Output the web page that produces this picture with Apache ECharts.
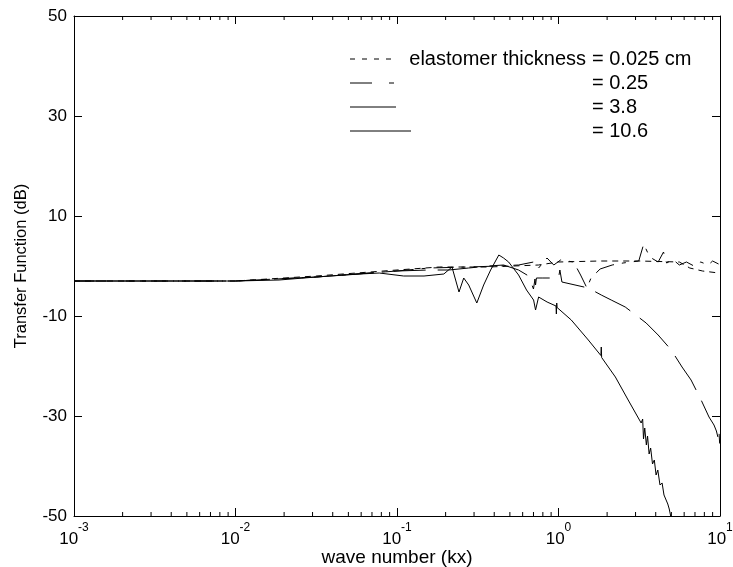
<!DOCTYPE html>
<html>
<head>
<meta charset="utf-8">
<script src="https://cdn.jsdelivr.net/npm/echarts@6/dist/echarts.min.js"></script>
<style>
html,body{margin:0;padding:0;background:#fff;}
#chart{width:733px;height:567px;}
</style>
</head>
<body>
<div id="chart"></div>
<script>
// ---- data (wave number kx, transfer function dB) ----
const seriesNames = ['0.025', '0.25', '3.8', '10.6'];
const legendLabels = ['= 0.025 cm', '= 0.25', '= 3.8', '= 10.6'];
const legendPrefix = 'elastomer thickness';
const xTitle = 'wave number (kx)';
const yTitle = 'Transfer Function (dB)';

const k_0025 = [0.001, 0.01, 0.0316, 0.1, 0.183, 0.37, 0.753, 1.0, 1.81, 3.14, 5.6, 6.5, 7.8, 9.8];
const db_0025 = [-3.0, -3.0, -2.0, -0.8, -0.2, -0.2, 0.2, 0.8, 1.0, 1.0, 0.8, -0.4, -1.0, -1.4];

const k_025 = [0.001, 0.01, 0.0316, 0.1, 0.158, 0.278, 0.427, 0.566, 0.701, 0.753, 0.849, 0.935, 1.03, 1.24, 1.37, 1.50, 1.59, 1.81, 2.15, 2.51, 3.14, 3.37, 3.67, 4.14, 4.47, 4.67, 5.15, 5.6, 6.2, 6.9, 7.6, 8.45, 9.0, 9.8];
const db_025 = [-3.0, -3.0, -2.2, -1.0, -0.4, -0.2, 0.0, 0.2, 0.8, -0.4, 1.6, 0.2, 1.2, 0.8, -1.8, -4.4, -2.4, -0.6, 0.2, 0.6, 1.0, 4.4, 1.8, 0.8, 2.8, 0.6, 1.2, 0.2, 0.8, 0.0, 0.8, 0.2, 1.0, 0.4];

const k_38 = [0.001, 0.01, 0.0316, 0.1, 0.158, 0.209, 0.278, 0.370, 0.457, 0.566, 0.653, 0.70, 0.715, 0.721, 0.73, 0.80, 1.0, 1.02, 1.05, 1.53, 1.84, 2.12, 2.59, 3.49, 4.14, 4.99, 5.82, 6.62, 7.64, 8.55, 9.18, 9.5, 9.75, 9.85, 9.95];
const db_38 = [-3.0, -3.0, -2.2, -1.0, -0.8, -0.8, -0.4, 0.0, 0.2, -0.8, -2.0, -4.6, -2.6, -3.8, -2.4, -2.4, -2.4, -0.8, -3.2, -4.4, -5.8, -6.8, -8.2, -11.4, -13.8, -16.8, -20.2, -22.8, -26.8, -30.2, -31.8, -33.0, -34.5, -33.0, -35.5];

const k_106 = [0.001, 0.01, 0.0186, 0.0316, 0.0589, 0.0776, 0.110, 0.147, 0.195, 0.219, 0.242, 0.259, 0.278, 0.312, 0.344, 0.380, 0.427, 0.457, 0.491, 0.566, 0.634, 0.701, 0.721, 0.753, 0.85, 0.965, 0.97, 0.975, 0.98, 1.20, 1.53, 1.83, 1.84, 1.85, 2.25, 2.70, 3.25, 3.32, 3.36, 3.42, 3.5, 3.56, 3.64, 3.72, 3.82, 3.92, 4.02, 4.12, 4.25, 4.38, 4.5, 4.62, 4.75, 4.85, 4.95];
const db_106 = [-3.0, -3.0, -2.8, -2.2, -1.6, -1.4, -2.0, -2.0, -1.6, -0.2, -5.2, -2.4, -3.8, -7.4, -3.8, -0.8, 2.2, 1.6, 0.8, -1.8, -4.8, -6.8, -8.8, -6.2, -7.2, -8.0, -9.6, -7.4, -8.3, -10.8, -14.8, -17.9, -16.2, -18.3, -22.2, -26.8, -31.4, -30.6, -34.6, -32.4, -35.8, -34.0, -37.6, -36.4, -39.6, -38.8, -41.8, -40.8, -43.8, -43.4, -45.8, -45.6, -47.6, -48.6, -50];

const minorTickValues = [];
[0.001, 0.01, 0.1, 1].forEach(function (d) { for (let m = 2; m <= 9; m++) minorTickValues.push(+(d * m).toPrecision(3)); });

const xMin = 0.001, xMax = 10, yMin = -50, yMax = 50, yStep = 20;

// ---- chart ----
const FONT = '"Liberation Sans", Arial, Helvetica, sans-serif';
const pair = (ks, ds) => ks.map((k, i) => [k, ds[i]]);
const dashStyles = [[6, 5], [20, 8, 4, 8], [40, 12], 'solid'];
const allData = [pair(k_0025, db_0025), pair(k_025, db_025), pair(k_38, db_38), pair(k_106, db_106)];

const chart = echarts.init(document.getElementById('chart'), null, {renderer: 'canvas'});
const axisLine = {show: true, onZero: false, lineStyle: {color: '#000', width: 1}};
const tick = {show: true, inside: true, length: 8, lineStyle: {color: '#000', width: 1}};

const lineSeries = allData.map((d, i) => ({
  name: seriesNames[i], type: 'line', data: d, showSymbol: false, symbol: 'none',
  xAxisIndex: 0, yAxisIndex: 0,
  lineStyle: {color: '#000', width: 1, type: dashStyles[i]}, silent: true, z: 3
}));

const minorSeries = {
  type: 'custom', xAxisIndex: 0, yAxisIndex: 0, silent: true, z: 4,
  data: minorTickValues.map(v => [v]),
  renderItem: function (params, api) {
    const b = api.coord([api.value(0), yMin]);
    const t = api.coord([api.value(0), yMax]);
    return {type: 'group', children: [
      {type: 'line', shape: {x1: b[0], y1: b[1], x2: b[0], y2: b[1] - 4}, style: {stroke: '#000', lineWidth: 1}},
      {type: 'line', shape: {x1: t[0], y1: t[1], x2: t[0], y2: t[1] + 4}, style: {stroke: '#000', lineWidth: 1}}
    ]};
  }
};

const legendY = [59, 83, 107, 131];
const legendX0 = 350, legendTextX = 592;
const graphics = [
  {type: 'line', shape: {x1: legendX0, y1: legendY[0], x2: 392, y2: legendY[0]}, style: {stroke: '#000', lineWidth: 1, lineDash: [5, 7]}},
  {type: 'line', shape: {x1: legendX0, y1: legendY[1], x2: 372, y2: legendY[1]}, style: {stroke: '#000', lineWidth: 1}},
  {type: 'line', shape: {x1: 389, y1: legendY[1], x2: 394, y2: legendY[1]}, style: {stroke: '#000', lineWidth: 1}},
  {type: 'line', shape: {x1: legendX0, y1: legendY[2], x2: 396, y2: legendY[2]}, style: {stroke: '#000', lineWidth: 1}},
  {type: 'line', shape: {x1: legendX0, y1: legendY[3], x2: 411, y2: legendY[3]}, style: {stroke: '#000', lineWidth: 1}},
  {type: 'text', x: legendTextX - 6, y: legendY[0], style: {text: legendPrefix, fill: '#000', fontSize: 20, fontFamily: FONT, align: 'right', verticalAlign: 'middle'}},
  {type: 'text', x: 397, y: 558, style: {text: xTitle, fill: '#000', fontSize: 19, fontFamily: FONT, align: 'center', verticalAlign: 'middle'}}
];
legendLabels.forEach((t, i) => graphics.push({type: 'text', x: legendTextX, y: legendY[i],
  style: {text: t, fill: '#000', fontSize: 20, fontFamily: FONT, align: 'left', verticalAlign: 'middle'}}));

const option = {
  animation: false,
  backgroundColor: '#fff',
  textStyle: {fontFamily: FONT, color: '#000'},
  grid: {left: 74, right: 13, top: 16, bottom: 51, containLabel: false, outerBoundsMode: 'none'},
  xAxis: [{
    type: 'log', logBase: 10, min: xMin, max: xMax, position: 'bottom',
    axisLine: axisLine, axisTick: tick, splitLine: {show: false}, minorTick: {show: false},
    axisLabel: {
      margin: 6, color: '#000',
      formatter: function (v) { return '{b|10}{s|' + Math.round(Math.log10(v)) + '}'; },
      rich: {
        b: {fontSize: 17, fontFamily: FONT, color: '#000', lineHeight: 34},
        s: {fontSize: 12, fontFamily: FONT, color: '#000', verticalAlign: 'top', lineHeight: 12}
      }
    }
  }, {
    type: 'log', logBase: 10, min: xMin, max: xMax, position: 'top',
    axisLine: axisLine, axisTick: tick, axisLabel: {show: false}, splitLine: {show: false}
  }],
  yAxis: [{
    type: 'value', min: yMin, max: yMax, interval: yStep, position: 'left',
    axisLine: axisLine, axisTick: tick, splitLine: {show: false},
    axisLabel: {margin: 7, fontSize: 17, fontFamily: FONT, color: '#000'},
    name: yTitle, nameLocation: 'middle', nameGap: 44,
    nameTextStyle: {fontSize: 16.5, fontFamily: FONT, color: '#000'}
  }, {
    type: 'value', min: yMin, max: yMax, interval: yStep, position: 'right',
    axisLine: axisLine, axisTick: tick, axisLabel: {show: false}, splitLine: {show: false}
  }],
  series: lineSeries.concat([minorSeries]),
  graphic: graphics
};
chart.setOption(option);
</script>
</body>
</html>
